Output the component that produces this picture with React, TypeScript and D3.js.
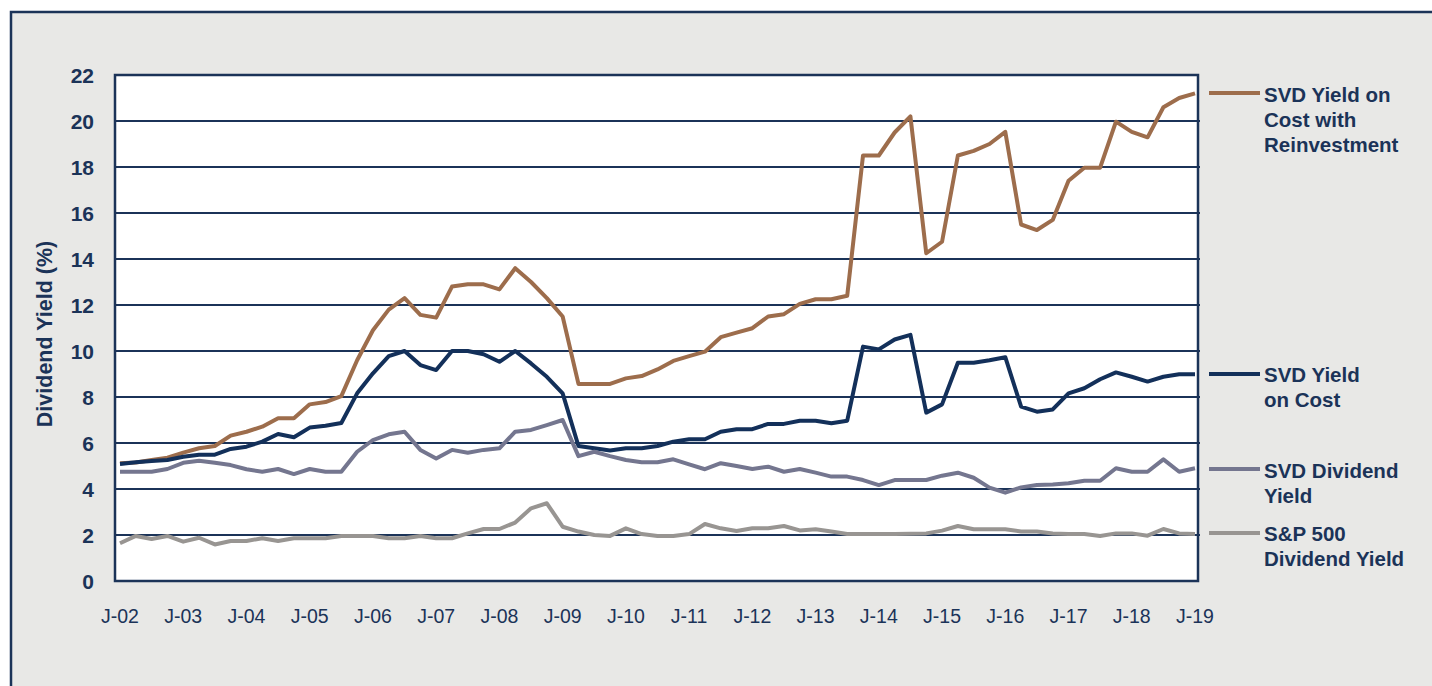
import React from "react";
import * as d3 from "d3";

// x-axis tick labels (one per year, January)
const yearLabels = ["J-02","J-03","J-04","J-05","J-06","J-07","J-08","J-09","J-10","J-11","J-12","J-13","J-14","J-15","J-16","J-17","J-18","J-19"];
const yTicks = [0, 2, 4, 6, 8, 10, 12, 14, 16, 18, 20, 22];

// Quarterly values, J-02 .. J-19 (69 points)
const reinvest = [
  5.12, 5.15, 5.26, 5.36,
  5.58, 5.77, 5.87, 6.32,
  6.49, 6.71, 7.08, 7.08,
  7.68, 7.78, 8.04, 9.6,
  10.9, 11.8, 12.3, 11.57,
  11.45, 12.8, 12.9, 12.9,
  12.68, 13.6, 13.0, 12.3,
  11.5, 8.57, 8.57, 8.57,
  8.81, 8.91, 9.2, 9.57,
  9.78, 9.97, 10.6, 10.8,
  10.99, 11.5, 11.6, 12.05,
  12.25, 12.25, 12.4, 18.5,
  18.5, 19.5, 20.2, 14.25,
  14.75, 18.5, 18.7, 19.0,
  19.53, 15.5, 15.26, 15.7,
  17.4, 17.97, 17.97, 19.97,
  19.53, 19.29, 20.6, 21.0,
  21.2,
];
const yieldOnCost = [
  5.09, 5.16, 5.22, 5.26,
  5.4, 5.49, 5.49, 5.74,
  5.84, 6.06, 6.39, 6.25,
  6.67, 6.75, 6.87, 8.16,
  9.03, 9.78, 10.0, 9.39,
  9.17, 10.0, 10.0, 9.86,
  9.53, 10.0, 9.46, 8.88,
  8.16, 5.87, 5.77, 5.67,
  5.77, 5.77, 5.87, 6.06,
  6.16, 6.16, 6.49, 6.6,
  6.6, 6.83, 6.83, 6.97,
  6.97, 6.86, 6.97, 10.19,
  10.07, 10.5, 10.7, 7.32,
  7.68, 9.49, 9.49, 9.6,
  9.73, 7.58, 7.36, 7.46,
  8.16, 8.38, 8.77, 9.07,
  8.88, 8.67, 8.88, 8.99,
  8.99,
];
const svdDivYield = [
  4.75, 4.75, 4.75, 4.87,
  5.14, 5.23, 5.14, 5.04,
  4.86, 4.75, 4.87, 4.65,
  4.87, 4.75, 4.75, 5.62,
  6.13, 6.38, 6.49, 5.7,
  5.33, 5.7, 5.58, 5.7,
  5.77, 6.49, 6.57, 6.78,
  7.0, 5.43, 5.62, 5.43,
  5.26, 5.16, 5.16, 5.29,
  5.07, 4.86, 5.12, 5.0,
  4.87, 4.97, 4.75, 4.87,
  4.71, 4.54, 4.54, 4.39,
  4.17, 4.39, 4.39, 4.39,
  4.58, 4.71, 4.49, 4.06,
  3.84, 4.07, 4.17, 4.2,
  4.25, 4.36, 4.36, 4.9,
  4.75, 4.75, 5.29, 4.75,
  4.9,
];
const spYield = [
  1.64, 1.96, 1.83, 1.96,
  1.71, 1.88, 1.59, 1.74,
  1.74, 1.86, 1.74, 1.86,
  1.86, 1.86, 1.96, 1.96,
  1.96, 1.86, 1.86, 1.96,
  1.86, 1.86, 2.07, 2.26,
  2.26, 2.54, 3.16, 3.38,
  2.36, 2.15, 2.0, 1.96,
  2.29, 2.04, 1.96, 1.96,
  2.04, 2.48, 2.29, 2.17,
  2.29, 2.29, 2.39, 2.2,
  2.25, 2.15, 2.04, 2.04,
  2.04, 2.04, 2.05, 2.07,
  2.19, 2.39, 2.25, 2.25,
  2.25, 2.15, 2.15, 2.07,
  2.04, 2.04, 1.96, 2.07,
  2.07, 1.97, 2.26, 2.07,
  2.04,
];

const seriesNames = [
  ["SVD Yield on", "Cost with", "Reinvestment"],
  ["SVD Yield", "on Cost"],
  ["SVD Dividend", "Yield"],
  ["S&P 500", "Dividend Yield"],
];
const seriesColors = ["#9d6d4c", "#13305a", "#74768f", "#989592"];
const seriesData = [reinvest, yieldOnCost, svdDivYield, spYield];

const NAVY = "#1b3358";
const FONT = "'Liberation Sans', Arial, Helvetica, sans-serif";

export default function App() {
  const W = 1432, H = 686;
  const plotL = 115, plotR = 1198, plotT = 75, plotB = 581;
  const x = d3.scaleLinear().domain([0, 68]).range([120, 1195]);
  const y = d3.scaleLinear().domain([0, 22]).range([plotB, plotT]);
  const line = d3.line<number>().x((_, i) => x(i)).y((d) => y(d));

  const legendLineY = [93, 374, 469, 533];
  const legendTextY = [102, 382, 478, 541];

  return (
    <div style={{ position: "fixed", left: 0, top: 0 }}>
      <svg width={W} height={H} style={{ display: "block" }}>
        <rect x={0} y={0} width={W} height={H} fill="#ffffff" />
        <rect x={11} y={12} width={1430} height={700} fill="#e8e8e6" stroke={NAVY} strokeWidth={2.5} />
        <rect x={plotL} y={plotT} width={plotR - plotL} height={plotB - plotT} fill="#ffffff" />
        {yTicks.map((t) => (
          <g key={t}>
            {t > 0 && t < 22 && (
              <line x1={plotL} x2={plotR + 2} y1={y(t)} y2={y(t)} stroke={NAVY} strokeWidth={2} />
            )}
            <text x={94} y={y(t)} dy="0.36em" textAnchor="end" fontFamily={FONT} fontWeight="bold" fontSize={21} fill={NAVY}>
              {t}
            </text>
          </g>
        ))}
        {seriesData.map((s, k) => (
          <path key={k} d={line(s) || ""} fill="none" stroke={seriesColors[k]} strokeWidth={4} strokeLinejoin="round" />
        ))}
        <rect x={plotL} y={plotT} width={plotR - plotL} height={plotB - plotT} fill="none" stroke={NAVY} strokeWidth={2.5} />
        {yearLabels.map((lab, j) => (
          <text key={lab} x={x(j * 4)} y={623} textAnchor="middle" fontFamily={FONT} fontSize={19.5} fill={NAVY}>
            {lab}
          </text>
        ))}
        <text transform={`translate(52,334) rotate(-90)`} textAnchor="middle" fontFamily={FONT} fontWeight="bold" fontSize={21.5} fill={NAVY}>
          Dividend Yield (%)
        </text>
        {seriesNames.map((names, k) => (
          <g key={k}>
            <line x1={1209} x2={1260} y1={legendLineY[k]} y2={legendLineY[k]} stroke={seriesColors[k]} strokeWidth={4} />
            {names.map((n, m) => (
              <text key={m} x={1264} y={legendTextY[k] + m * 25} fontFamily={FONT} fontWeight="bold" fontSize={20.5} fill={NAVY}>
                {n}
              </text>
            ))}
          </g>
        ))}
      </svg>
    </div>
  );
}
